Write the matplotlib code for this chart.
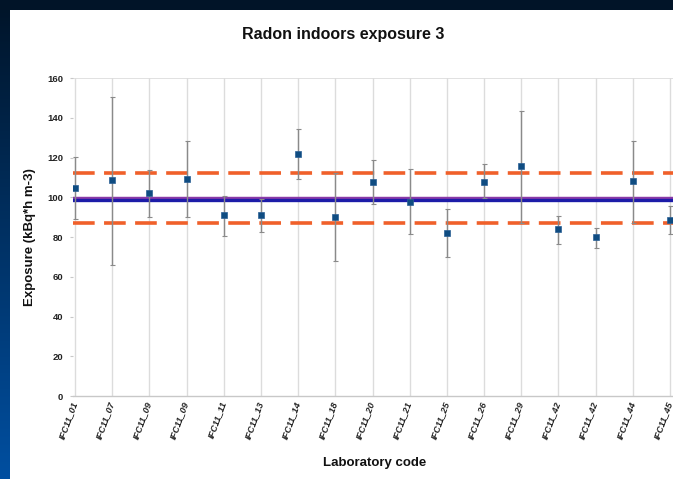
import numpy as np
import matplotlib
matplotlib.use("Agg")
import matplotlib.pyplot as plt
from matplotlib.patches import Rectangle

# Laboratory results for radon indoor exposure 3
labs = ["IFC11_01", "IFC11_07", "IFC11_09", "IFC11_09", "IFC11_11", "IFC11_13",
        "IFC11_14", "IFC11_18", "IFC11_20", "IFC11_21", "IFC11_25", "IFC11_26",
        "IFC11_29", "IFC11_42", "IFC11_42", "IFC11_44", "IFC11_45"]
exposure = [104.8, 108.5, 102.0, 109.3, 90.9, 90.9, 121.8, 90.2, 107.7,
            97.6, 82.2, 107.7, 115.7, 83.9, 79.8, 108.0, 88.7]
upper = [120.4, 150.6, 113.7, 128.5, 100.8, 99.0, 134.3, 112.0, 118.6,
         114.2, 94.2, 116.7, 143.4, 90.7, 84.7, 128.2, 95.7]
lower = [88.9, 65.9, 90.2, 90.2, 80.7, 82.5, 109.0, 68.1, 96.6,
         81.7, 69.8, 99.6, 86.9, 76.6, 74.6, 87.2, 81.7]

reference_value = 99.0
limit_low = 87.0
limit_high = 112.0

W, H = 673, 479
fig = plt.figure(figsize=(W / 100, H / 100), dpi=100)

# slide background: dark navy with a blue gradient down the left edge
bg = fig.add_axes([0, 0, 1, 1])
bg.set_axis_off()
t = np.linspace(0, 1, 256)[:, None]
top = np.array([0.004, 0.078, 0.157])
bot = np.array([0.0, 0.31, 0.63])
grad = top[None, None, :] * (1 - t[..., None]) + bot[None, None, :] * t[..., None]
grad = np.repeat(grad, 2, axis=1)
bg.imshow(grad, extent=[0, W, H, 0], aspect="auto")
bg.add_patch(Rectangle((0, 0), W, 10, color="#011428", lw=0))
bg.add_patch(Rectangle((10, 10), W - 10, H - 10, color="white", lw=0))
bg.set_xlim(0, W)
bg.set_ylim(H, 0)

x = np.arange(len(labs))
y = np.array(exposure)
err = np.vstack([y - np.array(lower), np.array(upper) - y])

ax = fig.add_axes([73 / W, 1 - 396 / H, (W - 73) / W, (396 - 78) / H])
ax.set_facecolor("white")
ax.set_xlim(-0.054, 16.08)
ax.set_ylim(0, 160)

for xi in x:
    ax.axvline(xi, color="#dcdcdc", lw=1, zorder=0)
ax.axhline(160, color="#dcdcdc", lw=1.2, zorder=0)

ax.axhline(limit_high, color="#f0602a", lw=2.6, dashes=(6, 2.6), zorder=2)
ax.axhline(limit_low, color="#f0602a", lw=2.6, dashes=(6, 2.6), zorder=2)
ax.axhline(reference_value, color="#8a3aa8", lw=3.2, zorder=3)
ax.axhline(reference_value - 0.3, color="#1c1ca8", lw=2.4, zorder=3)

ax.errorbar(x, y, yerr=err, fmt="none", ecolor="#8a8a8a", elinewidth=1.0,
            capsize=1.8, capthick=0.8, zorder=4)
ax.plot(x, y, "s", color="#0f4c81", markersize=4.6, markeredgecolor="#2a5f95",
        markeredgewidth=0.5, zorder=5)

for s in ["top", "right", "left"]:
    ax.spines[s].set_visible(False)
ax.spines["bottom"].set_color("#c8c8c8")
ax.spines["bottom"].set_linewidth(1.0)

ax.set_yticks(np.arange(0, 161, 20))
ax.tick_params(axis="y", length=2, color="#c8c8c8", pad=5, labelsize=6.8)
ax.tick_params(axis="x", length=0, pad=4, labelsize=6.6)
for lab in ax.get_yticklabels():
    lab.set_fontweight("bold")
    lab.set_color("#222222")
ax.set_xticks(x)
ax.set_xticklabels(labs, rotation=70, ha="right", va="center",
                   rotation_mode="anchor", fontweight="bold", color="#222222",
                   fontstyle="italic")

fig.text(343 / W, 1 - 35 / H, "Radon indoors exposure 3", ha="center", va="center",
         fontsize=11.5, fontweight="bold", family="Liberation Sans", color="#111111")
fig.text(375 / W, 1 - 463 / H, "Laboratory code", ha="center", va="center",
         fontsize=9.5, fontweight="bold", family="Liberation Sans", color="#111111")
fig.text(30 / W, 1 - 237 / H, "Exposure (kBq*h m-3)", ha="center", va="center",
         rotation=90, fontsize=9.5, fontweight="bold", family="Liberation Sans",
         color="#111111")

for lab in ax.get_xticklabels() + ax.get_yticklabels():
    lab.set_family("Liberation Sans")

fig.savefig("out.png", dpi=100)
